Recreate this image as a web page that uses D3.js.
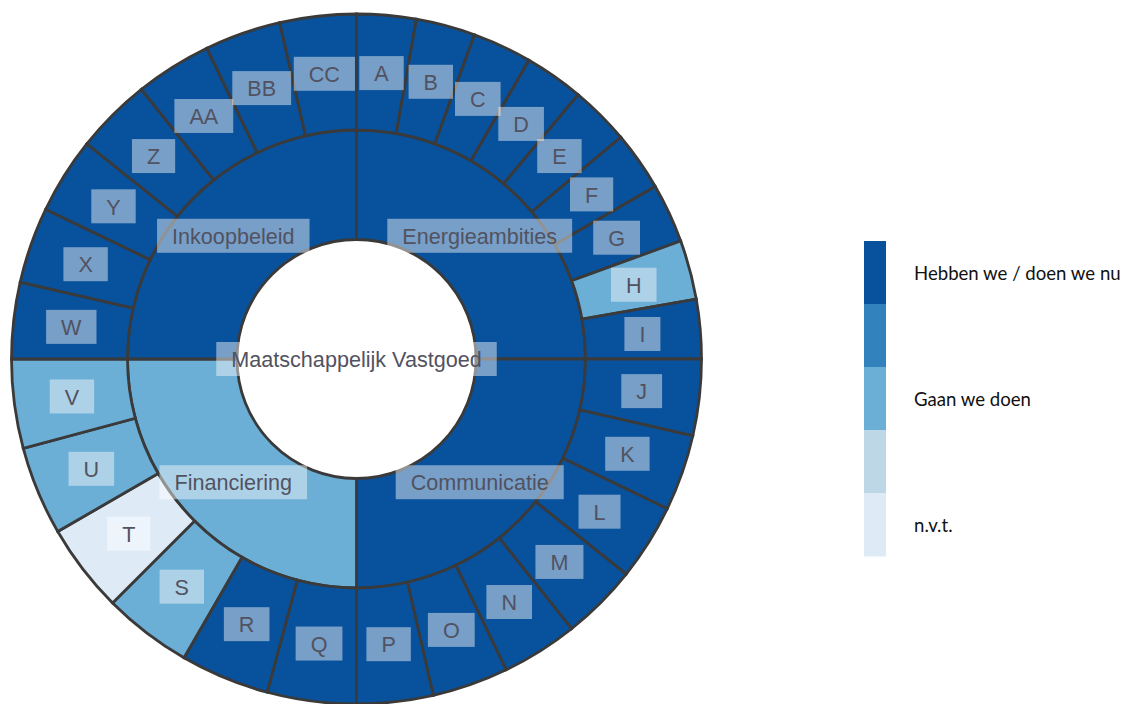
<!DOCTYPE html>
<html>
<head>
<meta charset="utf-8">
<script src="https://cdn.jsdelivr.net/npm/d3@7"></script>
<style>
  html, body { margin: 0; padding: 0; background: #fff; }
  svg { display: block; }
</style>
</head>
<body>
<svg id="chart" width="1124" height="704"></svg>
<script>
// ---- data ----
const rootName = "Maatschappelijk Vastgoed";
const categories = ["Energieambities", "Communicatie", "Financiering", "Inkoopbeleid"];
const categoryStatus = [0, 0, 2, 0];
const energieItems = ["A", "B", "C", "D", "E", "F", "G", "H", "I"];
const energieStatus = [0, 0, 0, 0, 0, 0, 0, 2, 0];
const communicatieItems = ["J", "K", "L", "M", "N", "O", "P"];
const communicatieStatus = [0, 0, 0, 0, 0, 0, 0];
const financieringItems = ["Q", "R", "S", "T", "U", "V"];
const financieringStatus = [0, 0, 2, 4, 2, 2];
const inkoopItems = ["W", "X", "Y", "Z", "AA", "BB", "CC"];
const inkoopStatus = [0, 0, 0, 0, 0, 0, 0];
const statusColors = ["#08519c", "#3182bd", "#6baed6", "#bdd7e7", "#deebf7"];
const legendLabels = ["Hebben we / doen we nu", "", "Gaan we doen", "", "n.v.t."];

const itemLists = [energieItems, communicatieItems, financieringItems, inkoopItems];
const statusLists = [energieStatus, communicatieStatus, financieringStatus, inkoopStatus];

// ---- hierarchy ----
const tree = {
  name: rootName,
  children: categories.map((c, i) => ({
    name: c,
    status: categoryStatus[i],
    children: itemLists[i].map((n, j) => ({ name: n, status: statusLists[i][j], weight: 1 / itemLists[i].length }))
  }))
};

const svg = d3.select("#chart");
const cx = 356.5, cy = 359;
const g = svg.append("g").attr("transform", `translate(${cx},${cy})`);

const root = d3.hierarchy(tree).sum(d => d.weight || 0);
d3.partition().size([2 * Math.PI, 3])(root);

const radius = d3.scaleLinear().domain([0, 1, 2, 3]).range([0, 119.5, 229, 345]);
const color = d3.scaleOrdinal().domain(d3.range(statusColors.length)).range(statusColors);

const arc = d3.arc()
  .startAngle(d => d.x0)
  .endAngle(d => d.x1)
  .innerRadius(d => radius(d.y0))
  .outerRadius(d => radius(d.y1));

const nodes = root.descendants();

g.selectAll("path.seg")
  .data(nodes.filter(d => d.depth > 0))
  .join("path")
  .attr("class", "seg")
  .attr("d", arc)
  .attr("fill", d => color(d.data.status))
  .attr("stroke", "#3a3a3a")
  .attr("stroke-width", 2.8);

// labels
const labelG = g.append("g");
nodes.forEach(d => {
  const [x, y] = d.depth === 0 ? [0, 0] : arc.centroid(d);
  const lg = labelG.append("g").attr("transform", `translate(${x},${y})`);
  const rect = lg.append("rect").attr("fill", "#ffffff").attr("fill-opacity", 0.45);
  const t = lg.append("text")
    .attr("text-anchor", "middle")
    .attr("dy", "0.38em")
    .attr("font-family", "'Liberation Sans', Arial, sans-serif")
    .attr("font-size", 21.6)
    .attr("fill", "#525260")
    .text(d.data.name);
  const w = t.node().getComputedTextLength() + 30;
  const h = 34;
  rect.attr("x", -w / 2).attr("y", -h / 2).attr("width", w).attr("height", h);
});

// legend
const legendY = d3.scaleBand().domain(d3.range(statusColors.length)).range([241, 556]);
const legend = svg.append("g");
legend.selectAll("rect")
  .data(statusColors)
  .join("rect")
  .attr("x", 864)
  .attr("y", (c, i) => legendY(i))
  .attr("width", 22)
  .attr("height", legendY.bandwidth() + 0.5)
  .attr("fill", c => c);
legend.selectAll("text")
  .data(legendLabels)
  .join("text")
  .attr("x", 914)
  .attr("y", (l, i) => legendY(i) + legendY.bandwidth() / 2)
  .attr("dy", "0.38em")
  .attr("font-family", "Lato, 'Open Sans', sans-serif")
  .attr("font-size", 18.6)
  .attr("fill", "#111")
  .text(l => l);
</script>
</body>
</html>
